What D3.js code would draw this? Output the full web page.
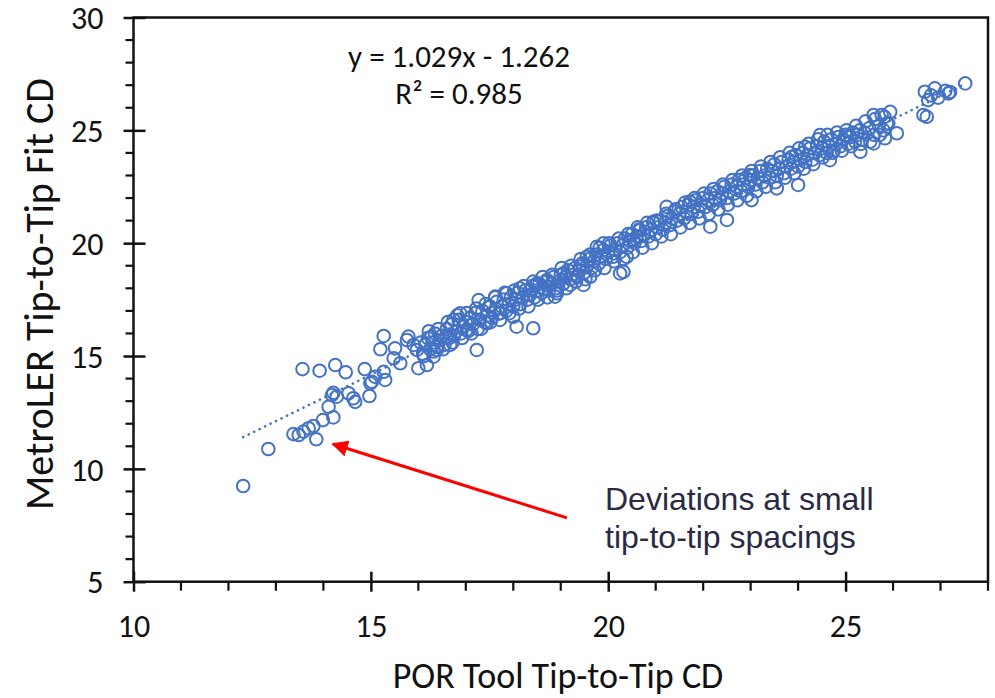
<!DOCTYPE html>
<html>
<head>
<meta charset="utf-8">
<script src="https://cdn.jsdelivr.net/npm/d3@7"></script>
<style>
  body { margin: 0; background: #fff; }
  text { fill: #111; }
</style>
</head>
<body>
<div id="chart"></div>
<script>
// POR tool CD (x) vs MetroLER fit CD (y)
const porCD = [
  12.31, 12.84, 13.37, 13.48, 13.58, 13.69, 13.79, 13.85, 13.99, 14.21, 14.11, 14.18, 14.21, 14.28,
  14.53, 14.67, 14.63, 14.97, 14.99, 15.02, 15.09, 15.30, 15.27, 13.56, 13.92, 14.25, 14.47, 14.87,
  15.27, 15.20, 15.48, 15.51, 15.62, 15.76, 15.79, 15.90, 15.97, 16.00, 16.18, 16.28, 16.32, 16.39,
  16.60, 16.67, 16.74, 16.88, 17.02, 17.23, 17.27, 17.44, 17.51, 17.62, 17.72, 17.86, 18.00, 18.07,
  18.14, 18.35, 18.42, 18.50, 18.71, 18.92, 19.06, 19.20, 19.41, 19.55, 19.76, 19.62, 19.90, 20.25,
  20.11, 20.39, 20.53, 20.67, 19.48, 20.32, 18.88,
  16.05, 16.10, 16.15, 16.20, 16.25, 16.30, 16.35, 16.40, 16.45, 16.50, 16.55, 16.60, 16.65, 16.70,
  16.75, 16.80, 16.85, 16.90, 16.95, 17.00, 17.05, 17.10, 17.15, 17.20, 17.25, 17.30, 17.35, 17.40,
  17.45, 17.50, 17.55, 17.60, 17.65, 17.70, 17.75, 17.80, 17.85, 17.90, 17.95, 18.00, 18.05, 18.10,
  18.15, 18.20, 18.25, 18.30, 18.35, 18.40, 18.45, 18.50, 18.55, 18.60, 18.65, 18.70, 18.75, 18.80,
  18.85, 18.90, 18.95, 19.00, 19.05, 19.10, 19.15, 19.20, 19.25, 19.30, 19.35, 19.40, 19.45, 19.50,
  19.55, 19.60, 19.65, 19.70, 19.75, 19.80, 19.85, 19.90, 19.95, 20.00, 20.05, 20.10, 20.15, 20.20,
  20.25, 20.30, 20.35, 20.40, 20.45, 20.50, 20.55, 20.60, 20.65, 20.70, 20.75, 20.80, 20.85, 20.90,
  20.95, 21.00, 21.05, 21.10, 21.15, 21.20, 21.25, 21.30, 21.35, 21.40, 21.45, 21.50, 21.55, 21.60,
  21.65, 21.70, 21.75, 21.80, 21.85, 21.90, 21.95, 22.00, 22.05, 22.10, 22.15, 22.20, 22.25, 22.30,
  22.35, 22.40, 22.45, 22.50, 22.55, 22.60, 22.65, 22.70, 22.75, 22.80, 22.85, 22.90, 22.95, 23.00,
  23.05, 23.10, 23.15, 23.20, 23.25, 23.30, 23.35, 23.40, 23.45, 23.50, 23.55, 23.60, 23.65, 23.70,
  23.75, 23.80, 23.85, 23.90, 23.95, 24.00, 24.05, 24.10, 24.15, 24.20, 24.25, 24.30, 24.35, 24.40,
  24.45, 24.50, 24.55, 24.60, 24.65, 24.70, 24.75, 24.80, 24.85, 24.90, 24.95, 25.00, 25.05, 25.10,
  25.15, 25.20, 25.25, 25.30, 25.35, 25.40, 25.50, 25.60, 25.70, 25.80, 25.90,
  27.52, 27.17, 26.88, 26.67, 26.74, 26.64, 26.71, 26.08, 25.94, 25.76, 25.59, 25.87, 25.83, 25.59,
  25.31, 25.03, 24.46, 24.67, 24.15, 24.00, 23.87, 23.55, 22.99, 23.02, 22.50, 22.15, 21.72, 21.23,
  20.95, 20.67, 26.80, 27.20, 26.95, 27.10
];
const metroCD = [
  9.24, 10.88, 11.54, 11.50, 11.65, 11.80, 11.90, 11.31, 12.16, 12.28, 12.75, 13.27, 13.37, 13.20,
  13.35, 12.97, 13.13, 13.23, 13.79, 13.86, 14.08, 13.94, 14.30, 14.42, 14.35, 14.60, 14.28, 14.42,
  15.89, 15.30, 14.90, 15.34, 14.68, 15.71, 15.86, 15.49, 15.27, 14.46, 14.60, 15.86, 14.97, 15.27,
  15.86, 15.49, 16.60, 16.89, 16.15, 15.27, 17.48, 16.45, 17.18, 17.63, 16.89, 17.78, 16.74, 16.30,
  18.00, 17.92, 16.23, 18.22, 18.37, 17.78, 18.66, 18.15, 18.96, 19.40, 19.84, 18.51, 19.99, 18.66,
  19.55, 19.40, 20.14, 20.29, 18.15, 18.73, 17.63,
  15.60, 15.10, 15.50, 15.80, 15.30, 15.60, 16.00, 15.40, 15.70, 15.90, 15.50, 16.20, 15.80, 16.40,
  15.90, 16.10, 16.60, 16.00, 16.30, 16.50, 16.10, 16.70, 16.40, 16.90, 16.20, 16.60, 17.00, 16.50,
  16.80, 17.20, 16.70, 17.00, 17.40, 16.90, 17.20, 17.50, 17.00, 17.30, 17.60, 17.20, 17.50, 17.80,
  17.30, 17.60, 17.90, 17.50, 17.70, 18.10, 17.60, 17.90, 18.20, 17.80, 18.00, 18.30, 17.90, 18.20,
  18.50, 18.00, 18.30, 18.60, 18.20, 18.50, 18.80, 18.40, 18.60, 18.90, 18.50, 18.80, 19.10, 18.70,
  19.00, 19.30, 18.90, 19.20, 19.50, 19.10, 19.40, 19.70, 19.30, 19.60, 19.90, 19.40, 19.70, 20.00,
  19.60, 19.90, 20.20, 19.80, 20.10, 20.40, 20.00, 20.30, 20.60, 20.10, 20.40, 20.70, 20.30, 20.60,
  20.90, 20.40, 20.70, 21.00, 20.60, 20.90, 21.20, 20.80, 21.10, 21.40, 21.00, 21.30, 21.60, 21.10,
  21.40, 21.70, 21.30, 21.60, 21.90, 21.40, 21.70, 22.00, 21.60, 21.90, 22.20, 21.70, 22.00, 22.30,
  21.90, 22.20, 22.50, 22.00, 22.30, 22.60, 22.20, 22.50, 22.80, 22.30, 22.60, 22.90, 22.50, 22.80,
  23.00, 22.60, 22.90, 23.20, 22.70, 23.00, 23.30, 22.90, 23.20, 23.50, 23.00, 23.30, 23.60, 23.10,
  23.40, 23.70, 23.30, 23.60, 23.90, 23.40, 23.70, 24.00, 23.60, 23.90, 24.20, 23.70, 24.00, 24.30,
  23.90, 24.20, 24.50, 24.00, 24.30, 24.60, 24.10, 24.40, 24.70, 24.30, 24.60, 24.80, 24.40, 24.70,
  24.90, 24.50, 24.80, 25.00, 24.60, 24.90, 25.10, 24.80, 25.20, 25.00, 25.30,
  27.08, 26.64, 26.86, 26.71, 26.34, 25.68, 25.60, 24.87, 25.82, 25.68, 25.68, 25.31, 24.65, 24.42,
  24.05, 24.72, 24.79, 23.68, 24.27, 22.58, 23.83, 22.43, 23.02, 21.91, 21.03, 20.73, 21.84, 21.61,
  20.95, 20.58, 26.55, 26.70, 26.45, 26.75
];
// points along the upper and lower edges of the band
const edgeX = [
  16.12, 16.22, 16.32, 16.42, 16.52, 16.62, 16.72, 16.82, 16.92, 17.02, 17.12, 17.22, 17.32, 17.42,
  17.52, 17.62, 17.72, 17.82, 17.92, 18.02, 18.12, 18.22, 18.32, 18.42, 18.52, 18.62, 18.72, 18.82,
  18.92, 19.02, 19.12, 19.22, 19.32, 19.42, 19.52, 19.62, 19.72, 19.82, 19.92, 20.02, 20.12, 20.22,
  20.32, 20.42, 20.52, 20.62, 20.72, 20.82, 20.92, 21.02, 21.12, 21.22, 21.32, 21.42, 21.52, 21.62,
  21.72, 21.82, 21.92, 22.02, 22.12, 22.22, 22.32, 22.42, 22.52, 22.62, 22.72, 22.82, 22.92, 23.02,
  23.12, 23.22, 23.32, 23.42, 23.52, 23.62, 23.72, 23.82, 23.92, 24.02, 24.12, 24.22, 24.32, 24.42,
  24.52, 24.62, 24.72, 24.82, 24.92, 25.02, 25.12, 25.22, 25.32, 25.42, 25.52, 25.62, 25.72, 25.82
];
const edgeY = [
  15.0, 16.1, 15.2, 16.2, 15.3, 16.5, 15.6, 16.8, 15.8, 16.9, 16.0, 17.1, 16.2, 17.3,
  16.5, 17.6, 16.6, 17.8, 16.9, 17.9, 17.1, 18.1, 17.2, 18.3, 17.5, 18.5, 17.6, 18.6,
  17.9, 18.9, 18.0, 19.0, 18.3, 19.3, 18.4, 19.5, 18.8, 19.8, 18.9, 20.0, 19.2, 20.2,
  19.3, 20.4, 19.6, 20.7, 19.8, 20.9, 20.0, 21.0, 20.3, 21.3, 20.4, 21.5, 20.7, 21.8,
  20.9, 22.0, 21.1, 22.2, 21.3, 22.4, 21.5, 22.6, 21.7, 22.8, 21.9, 23.0, 22.1, 23.2,
  22.3, 23.4, 22.5, 23.6, 22.7, 23.8, 22.9, 24.0, 23.1, 24.2, 23.3, 24.4, 23.5, 24.6,
  23.8, 24.8, 24.0, 24.9, 24.1, 25.0, 24.3, 25.2, 24.4, 25.4, 24.5, 25.5, 24.8, 25.6
];

const xTicks = [10, 15, 20, 25];
const yTicks = [5, 10, 15, 20, 25, 30];
const fitSlope = 1.029, fitIntercept = -1.262;
const eqLines = ["y = 1.029x - 1.262", "R² = 0.985"];
const noteLines = ["Deviations at small", "tip-to-tip spacings"];

const W = 995, H = 698;
const blue = "#4472C4";
const calibri = "Carlito, 'Open Sans', sans-serif";

const svg = d3.select("#chart").append("svg")
  .attr("width", W).attr("height", H);

const x = d3.scaleLinear().domain([10, 28]).range([133.5, 988]);
const y = d3.scaleLinear().domain([5, 30]).range([581.7, 17.5]);

// minor ticks, every unit
const xMinor = d3.range(11, 29).filter(v => v % 5 !== 0);
const yMinor = d3.range(6, 30).filter(v => v % 5 !== 0);

svg.append("g").selectAll("line").data(xMinor).join("line")
  .attr("x1", d => x(d)).attr("x2", d => x(d))
  .attr("y1", y(5)).attr("y2", y(5) + 9)
  .attr("stroke", "#111").attr("stroke-width", 2.2);
svg.append("g").selectAll("line").data(yMinor).join("line")
  .attr("y1", d => y(d)).attr("y2", d => y(d))
  .attr("x1", x(10) - 8).attr("x2", x(10))
  .attr("stroke", "#111").attr("stroke-width", 2.2);

// plot frame
svg.append("rect")
  .attr("x", x(10)).attr("y", y(30))
  .attr("width", x(28) - x(10)).attr("height", y(5) - y(30))
  .attr("fill", "none").attr("stroke", "#111").attr("stroke-width", 2.5);

// major axes
const xAxis = svg.append("g")
  .attr("transform", "translate(0," + y(5) + ")")
  .call(d3.axisBottom(x).tickValues(xTicks).tickSize(10).tickFormat(d3.format("d")));
xAxis.select(".domain").remove();
xAxis.selectAll(".tick line").attr("y1", -10).attr("y2", 10).attr("stroke", "#111").attr("stroke-width", 2.5);
xAxis.selectAll(".tick text").attr("y", 55).attr("dy", 0)
  .style("font-family", calibri).style("font-size", "32px").attr("fill", "#111");

const yAxis = svg.append("g")
  .attr("transform", "translate(" + x(10) + ",0)")
  .call(d3.axisLeft(y).tickValues(yTicks).tickSize(10).tickFormat(d3.format("d")));
yAxis.select(".domain").remove();
yAxis.selectAll(".tick line").attr("x1", -10).attr("x2", 12).attr("stroke", "#111").attr("stroke-width", 2.5);
yAxis.selectAll(".tick text").attr("x", -30).attr("dy", "0.35em")
  .style("font-family", calibri).style("font-size", "32px").attr("fill", "#111");

// axis titles
svg.append("text")
  .attr("x", 558).attr("y", 688)
  .attr("text-anchor", "middle")
  .style("font-family", calibri).style("font-size", "36px")
  .text("POR Tool Tip-to-Tip CD");
svg.append("text")
  .attr("transform", "translate(53,294) rotate(-90)")
  .attr("text-anchor", "middle")
  .style("font-family", calibri).style("font-size", "40px")
  .text("MetroLER Tip-to-Tip Fit CD");

// points
const pts = porCD.map((v, i) => ({ x: v, y: metroCD[i] }))
  .concat(edgeX.map((v, i) => ({ x: v, y: edgeY[i] })));
svg.append("g").selectAll("circle").data(pts).join("circle")
  .attr("cx", d => x(d.x)).attr("cy", d => y(d.y))
  .attr("r", 6.3)
  .attr("fill", "none").attr("stroke", blue).attr("stroke-width", 2);

// linear trend line, dotted
const xr = d3.extent(porCD);
svg.append("line")
  .attr("x1", x(xr[0])).attr("y1", y(fitSlope * xr[0] + fitIntercept))
  .attr("x2", x(xr[1])).attr("y2", y(fitSlope * xr[1] + fitIntercept))
  .attr("stroke", blue).attr("stroke-width", 2.6)
  .attr("stroke-dasharray", "0.1 6").attr("stroke-linecap", "round");

// equation label
svg.append("g").selectAll("text").data(eqLines).join("text")
  .attr("x", 459).attr("y", (d, i) => 67 + i * 37)
  .attr("text-anchor", "middle")
  .style("font-family", calibri).style("font-size", "31px")
  .text(d => d);

// red arrow annotation
svg.append("defs").append("marker")
  .attr("id", "head").attr("viewBox", "0 0 10 10")
  .attr("refX", 9).attr("refY", 5)
  .attr("markerWidth", 5.5).attr("markerHeight", 5.5)
  .attr("orient", "auto")
  .append("path").attr("d", "M0,0 L10,5 L0,10 z").attr("fill", "#FF0000");
svg.append("line")
  .attr("x1", x(19.13)).attr("y1", y(7.83))
  .attr("x2", x(14.2)).attr("y2", y(11.1))
  .attr("stroke", "#FF0000").attr("stroke-width", 3)
  .attr("marker-end", "url(#head)");

svg.append("g").selectAll("text").data(noteLines).join("text")
  .attr("x", 605).attr("y", (d, i) => 510 + i * 38)
  .style("font-family", "'Liberation Sans', Arial, sans-serif").style("font-size", "32px")
  .style("fill", "#2a2a44")
  .text(d => d);
</script>
</body>
</html>
